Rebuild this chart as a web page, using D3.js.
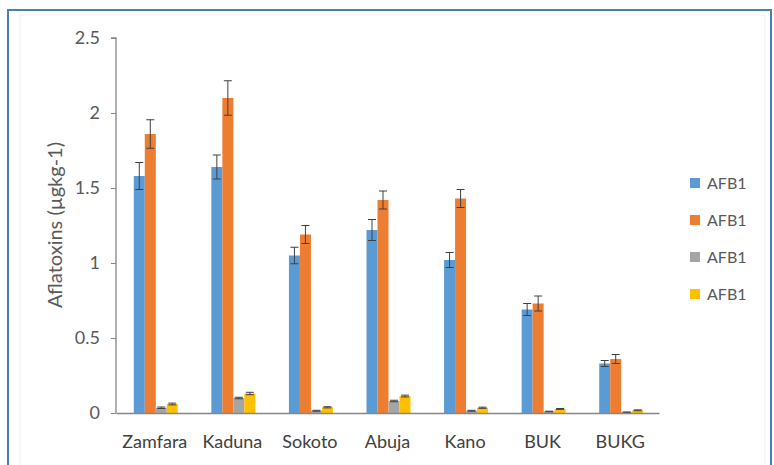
<!DOCTYPE html>
<html><head><meta charset="utf-8">
<script src="https://cdn.jsdelivr.net/npm/d3@7"></script>
<style>body{margin:0;background:#fff}svg{display:block}</style>
</head><body>
<script>
const categories = ["Zamfara","Kaduna","Sokoto","Abuja","Kano","BUK","BUKG"];
const seriesNames = ["AFB1","AFB1","AFB1","AFB1"];
const s1 = [1.58,1.64,1.05,1.22,1.02,0.69,0.33];
const s2 = [1.86,2.10,1.19,1.42,1.43,0.73,0.36];
const s3 = [0.035,0.10,0.015,0.08,0.015,0.01,0.005];
const s4 = [0.06,0.13,0.038,0.113,0.035,0.027,0.018];
const e1 = [0.09,0.08,0.055,0.07,0.05,0.04,0.02];
const e2 = [0.095,0.115,0.06,0.06,0.06,0.05,0.03];
const e3 = [0.005,0.005,0.003,0.005,0.003,0.002,0.002];
const e4 = [0.006,0.008,0.004,0.006,0.004,0.003,0.003];
const yTicks = [0,0.5,1,1.5,2,2.5];
const yTickLabels = ["0","0.5","1","1.5","2","2.5"];
const colors = ["#5B9BD5","#ED7D31","#A5A5A5","#FFC000"];
const values = [s1,s2,s3,s4];
const errs = [e1,e2,e3,e4];

const W=774,H=465;
const svg=d3.select("body").append("svg").attr("width",W).attr("height",H);
const font="Lato, 'Open Sans', sans-serif";
// outer frame
svg.append("rect").attr("x",8).attr("y",10).attr("width",763).attr("height",470)
  .attr("fill","#fff").attr("stroke","#4a7ebb").attr("stroke-width",2);
svg.append("rect").attr("x",20).attr("y",15).attr("width",745).attr("height",460)
  .attr("fill","none").attr("stroke","#f0f0f0").attr("stroke-width",1);

const x0=116,x1=659,yTop=38,yBot=413;
const x=d3.scaleBand().domain(categories).range([x0,x1]).paddingInner(0).paddingOuter(0);
const y=d3.scaleLinear().domain([0,2.5]).range([yBot,yTop]);
const bw=44;
const xs=d3.scaleBand().domain(d3.range(4)).range([0,bw]);

const g=svg.append("g");
values.forEach((vals,si)=>{
  g.selectAll(null).data(vals).enter().append("rect")
    .attr("x",(d,i)=>x(categories[i])+x.bandwidth()/2-bw/2+1+xs(si))
    .attr("y",d=>y(d)).attr("width",xs.bandwidth()).attr("height",d=>yBot-y(d))
    .attr("fill",colors[si]);
});
// error bars
values.forEach((vals,si)=>{
  vals.forEach((v,i)=>{
    const cx=x(categories[i])+x.bandwidth()/2-bw/2+1+xs(si)+xs.bandwidth()/2;
    const e=errs[si][i];
    g.append("line").attr("x1",cx).attr("x2",cx).attr("y1",y(v-e)).attr("y2",y(v+e))
      .attr("stroke","#404040").attr("stroke-width",1);
    [v-e,v+e].forEach(t=>g.append("line").attr("x1",cx-4).attr("x2",cx+4)
      .attr("y1",y(t)).attr("y2",y(t)).attr("stroke","#404040").attr("stroke-width",1));
  });
});

// y axis
const yAxis=d3.axisLeft(y).tickValues(yTicks).tickFormat((d,i)=>yTickLabels[i]).tickSize(5).tickPadding(11);
const ya=svg.append("g").attr("transform",`translate(${x0},0)`).call(yAxis);
ya.select(".domain").attr("stroke","#868686").attr("stroke-width",1.3).attr("d",`M-5,${yTop}H0V${yBot}`);
ya.selectAll(".tick line").attr("stroke","#868686");
ya.selectAll("text").attr("font-family",font).attr("font-size",18).attr("fill","#595959");
// x axis
const xAxis=d3.axisBottom(x).tickSize(0).tickPadding(22);
const xa=svg.append("g").attr("transform",`translate(0,${yBot})`).call(xAxis);
xa.select(".domain").attr("stroke","#868686").attr("stroke-width",1.3);
xa.selectAll("text").attr("font-family",font).attr("font-size",18).attr("fill","#404040");

svg.append("text").attr("transform",`translate(55,225) rotate(-90)`).attr("text-anchor","middle")
  .attr("dy","0.35em").attr("font-family",font).attr("font-size",20).attr("fill","#595959").text("Aflatoxins (µgkg-1)");

// legend
const lg=svg.append("g");
seriesNames.forEach((n,i)=>{
  const yy=183+i*37;
  lg.append("rect").attr("x",690).attr("y",yy-5).attr("width",10).attr("height",10).attr("fill",colors[i]);
  lg.append("text").attr("x",707).attr("y",yy).attr("dy","0.36em").attr("font-family",font)
    .attr("font-size",16).attr("fill","#595959").text(n);
});
</script>
</body></html>
